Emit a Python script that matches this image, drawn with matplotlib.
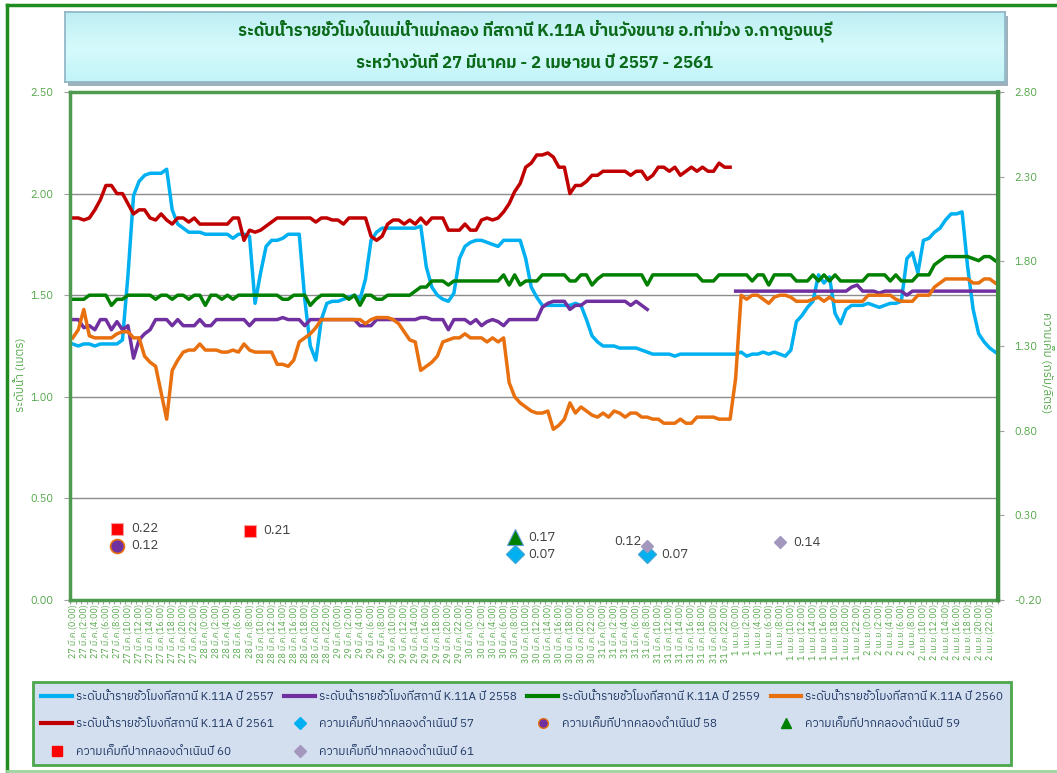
import numpy as np
import matplotlib
matplotlib.use('Agg')
import matplotlib.pyplot as plt
from matplotlib import font_manager
from matplotlib.ft2font import FT2Font
from matplotlib.lines import Line2D
from matplotlib.patches import Rectangle
from matplotlib.colors import LinearSegmentedColormap

nan = float('nan')

# หมวดหมู่แกน x: รายชั่วโมง 27 มี.ค. - 2 เม.ย.
days = ['27 มี.ค.', '28 มี.ค.', '29 มี.ค.', '30 มี.ค.', '31 มี.ค.', '1 เม.ย.', '2 เม.ย.']
times = [f'{d}({h}:00)' for d in days for h in range(24)]

# ระดับน้ำ (เมตร) ค่าละชั่วโมง อ่านจากกราฟ
lvl_2557 = [1.26, 1.25, 1.26, 1.26, 1.25, 1.26, 1.26, 1.26, 1.26, 1.28, 1.60, 1.99, 2.06, 2.09, 2.10, 2.10, 2.10, 2.12, 1.92, 1.85, 1.83, 1.81, 1.81, 1.81,
            1.80, 1.80, 1.80, 1.80, 1.80, 1.78, 1.80, 1.80, 1.79, 1.46, 1.61, 1.74, 1.77, 1.77, 1.78, 1.80, 1.80, 1.80, 1.48, 1.25, 1.18, 1.38, 1.46, 1.47,
            1.47, 1.48, 1.49, 1.50, 1.48, 1.58, 1.77, 1.81, 1.83, 1.83, 1.83, 1.83, 1.83, 1.83, 1.83, 1.84, 1.64, 1.54, 1.50, 1.48, 1.47, 1.51, 1.68, 1.74,
            1.76, 1.77, 1.77, 1.76, 1.75, 1.74, 1.77, 1.77, 1.77, 1.77, 1.68, 1.54, 1.49, 1.45, 1.45, 1.45, 1.45, 1.45, 1.45, 1.46, 1.45, 1.38, 1.30, 1.27,
            1.25, 1.25, 1.25, 1.24, 1.24, 1.24, 1.24, 1.23, 1.22, 1.21, 1.21, 1.21, 1.21, 1.20, 1.21, 1.21, 1.21, 1.21, 1.21, 1.21, 1.21, 1.21, 1.21, 1.21,
            1.21, 1.22, 1.20, 1.21, 1.21, 1.22, 1.21, 1.22, 1.21, 1.20, 1.23, 1.37, 1.40, 1.44, 1.47, 1.60, 1.56, 1.59, 1.41, 1.36, 1.43, 1.45, 1.45, 1.45,
            1.46, 1.45, 1.44, 1.45, 1.46, 1.46, 1.47, 1.68, 1.71, 1.61, 1.77, 1.78, 1.81, 1.83, 1.87, 1.90, 1.90, 1.91, 1.64, 1.43, 1.31, 1.27, 1.24, 1.22]

lvl_2558 = [1.38, 1.38, 1.34, 1.35, 1.33, 1.38, 1.38, 1.33, 1.37, 1.33, 1.35, 1.19, 1.28, 1.31, 1.33, 1.38, 1.38, 1.38, 1.35, 1.38, 1.35, 1.35, 1.35, 1.38,
            1.35, 1.35, 1.38, 1.38, 1.38, 1.38, 1.38, 1.38, 1.35, 1.38, 1.38, 1.38, 1.38, 1.38, 1.39, 1.38, 1.38, 1.38, 1.35, 1.38, 1.38, 1.38, 1.38, 1.38,
            1.38, 1.38, 1.38, 1.38, 1.35, 1.35, 1.35, 1.38, 1.38, 1.38, 1.38, 1.38, 1.38, 1.38, 1.38, 1.39, 1.39, 1.38, 1.38, 1.38, 1.33, 1.38, 1.38, 1.38,
            1.36, 1.38, 1.35, 1.37, 1.38, 1.37, 1.35, 1.38, 1.38, 1.38, 1.38, 1.38, 1.38, 1.44, 1.46, 1.47, 1.47, 1.47, 1.43, 1.45, 1.45, 1.47, 1.47, 1.47,
            1.47, 1.47, 1.47, 1.47, 1.47, 1.45, 1.47, 1.45, 1.43, nan, nan, nan, nan, nan, nan, nan, nan, nan, nan, nan, nan, nan, nan, nan,
            1.52, 1.52, 1.52, 1.52, 1.52, 1.52, 1.52, 1.52, 1.52, 1.52, 1.52, 1.52, 1.52, 1.52, 1.52, 1.52, 1.52, 1.52, 1.52, 1.52, 1.52, 1.54, 1.55, 1.52,
            1.52, 1.52, 1.51, 1.52, 1.52, 1.52, 1.52, 1.50, 1.52, 1.52, 1.52, 1.52, 1.52, 1.52, 1.52, 1.52, 1.52, 1.52, 1.52, 1.52, 1.52, 1.52, 1.52, 1.52]

lvl_2559 = [1.48, 1.48, 1.48, 1.50, 1.50, 1.50, 1.50, 1.45, 1.48, 1.48, 1.50, 1.50, 1.50, 1.50, 1.50, 1.48, 1.50, 1.50, 1.48, 1.50, 1.50, 1.48, 1.50, 1.50,
            1.45, 1.50, 1.50, 1.48, 1.50, 1.48, 1.50, 1.50, 1.50, 1.50, 1.50, 1.50, 1.50, 1.50, 1.48, 1.48, 1.50, 1.50, 1.50, 1.45, 1.48, 1.50, 1.50, 1.50,
            1.50, 1.50, 1.48, 1.50, 1.45, 1.50, 1.50, 1.48, 1.48, 1.50, 1.50, 1.50, 1.50, 1.50, 1.52, 1.54, 1.54, 1.57, 1.57, 1.57, 1.55, 1.57, 1.57, 1.57,
            1.57, 1.57, 1.57, 1.57, 1.57, 1.57, 1.60, 1.55, 1.60, 1.55, 1.57, 1.57, 1.57, 1.60, 1.60, 1.60, 1.60, 1.60, 1.57, 1.57, 1.60, 1.60, 1.55, 1.58,
            1.60, 1.60, 1.60, 1.60, 1.60, 1.60, 1.60, 1.60, 1.55, 1.60, 1.60, 1.60, 1.60, 1.60, 1.60, 1.60, 1.60, 1.60, 1.57, 1.57, 1.57, 1.60, 1.60, 1.60,
            1.60, 1.60, 1.60, 1.57, 1.60, 1.60, 1.55, 1.60, 1.60, 1.60, 1.60, 1.57, 1.57, 1.57, 1.60, 1.57, 1.60, 1.57, 1.60, 1.57, 1.57, 1.57, 1.57, 1.57,
            1.60, 1.60, 1.60, 1.60, 1.57, 1.60, 1.57, 1.57, 1.57, 1.60, 1.60, 1.60, 1.65, 1.67, 1.69, 1.69, 1.69, 1.69, 1.69, 1.68, 1.67, 1.69, 1.69, 1.67]

lvl_2560 = [1.29, 1.33, 1.43, 1.30, 1.29, 1.29, 1.29, 1.29, 1.31, 1.32, 1.32, 1.29, 1.29, 1.20, 1.17, 1.15, 1.02, 0.89, 1.13, 1.18, 1.22, 1.23, 1.23, 1.26,
            1.23, 1.23, 1.23, 1.22, 1.22, 1.23, 1.22, 1.26, 1.23, 1.22, 1.22, 1.22, 1.22, 1.16, 1.16, 1.15, 1.18, 1.27, 1.29, 1.31, 1.34, 1.38, 1.38, 1.38,
            1.38, 1.38, 1.38, 1.38, 1.38, 1.36, 1.38, 1.39, 1.39, 1.39, 1.38, 1.36, 1.32, 1.28, 1.27, 1.13, 1.15, 1.17, 1.20, 1.27, 1.28, 1.29, 1.29, 1.31,
            1.29, 1.29, 1.29, 1.27, 1.29, 1.27, 1.29, 1.07, 1.00, 0.97, 0.95, 0.93, 0.92, 0.92, 0.93, 0.84, 0.86, 0.89, 0.97, 0.92, 0.95, 0.93, 0.91, 0.90,
            0.92, 0.90, 0.93, 0.92, 0.90, 0.92, 0.92, 0.90, 0.90, 0.89, 0.89, 0.87, 0.87, 0.87, 0.89, 0.87, 0.87, 0.90, 0.90, 0.90, 0.90, 0.89, 0.89, 0.89,
            1.09, 1.50, 1.48, 1.50, 1.50, 1.48, 1.46, 1.49, 1.50, 1.50, 1.49, 1.47, 1.47, 1.47, 1.48, 1.49, 1.47, 1.49, 1.47, 1.47, 1.47, 1.47, 1.47, 1.47,
            1.50, 1.50, 1.50, 1.50, 1.50, 1.48, 1.47, 1.47, 1.47, 1.50, 1.50, 1.50, 1.54, 1.56, 1.58, 1.58, 1.58, 1.58, 1.58, 1.56, 1.56, 1.58, 1.58, 1.56]

# ปี 2561 มีข้อมูลถึง 31 มี.ค. 23:00
lvl_2561 = [1.88, 1.88, 1.87, 1.88, 1.92, 1.97, 2.04, 2.04, 2.00, 2.00, 1.95, 1.90, 1.92, 1.92, 1.88, 1.87, 1.90, 1.87, 1.85, 1.88, 1.88, 1.86, 1.88, 1.85,
            1.85, 1.85, 1.85, 1.85, 1.85, 1.88, 1.88, 1.77, 1.82, 1.81, 1.82, 1.84, 1.86, 1.88, 1.88, 1.88, 1.88, 1.88, 1.88, 1.88, 1.86, 1.88, 1.88, 1.87,
            1.87, 1.85, 1.88, 1.88, 1.88, 1.88, 1.79, 1.77, 1.79, 1.85, 1.87, 1.87, 1.85, 1.87, 1.85, 1.88, 1.85, 1.88, 1.88, 1.88, 1.82, 1.82, 1.82, 1.85,
            1.82, 1.82, 1.87, 1.88, 1.87, 1.88, 1.91, 1.95, 2.01, 2.05, 2.13, 2.15, 2.19, 2.19, 2.20, 2.18, 2.13, 2.13, 2.00, 2.04, 2.04, 2.06, 2.09, 2.09,
            2.11, 2.11, 2.11, 2.11, 2.11, 2.09, 2.11, 2.11, 2.07, 2.09, 2.13, 2.13, 2.11, 2.13, 2.09, 2.11, 2.13, 2.11, 2.13, 2.11, 2.11, 2.15, 2.13, 2.13]

# ความเค็มที่ปากคลองดำเนิน (กรัม/ลิตร) วัดเวลา 8:00
sal_57_t = ['30 มี.ค.(8:00)', '31 มี.ค.(8:00)']
sal_57 = [0.07, 0.07]
sal_58_t = ['27 มี.ค.(8:00)']
sal_58 = [0.12]
sal_59_t = ['30 มี.ค.(8:00)']
sal_59 = [0.17]
sal_60_t = ['27 มี.ค.(8:00)', '28 มี.ค.(8:00)']
sal_60 = [0.22, 0.21]
sal_61_t = ['31 มี.ค.(8:00)', '1 เม.ย.(8:00)']
sal_61 = [0.12, 0.14]

title1 = 'ระดับน้ำรายชั่วโมงในแม่น้ำแม่กลอง ที่สถานี K.11A บ้านวังขนาย อ.ท่าม่วง จ.กาญจนบุรี'
title2 = 'ระหว่างวันที่ 27 มีนาคม - 2 เมษายน ปี 2557 - 2561'
lvl_name = 'ระดับน้ำรายชั่วโมงที่สถานี K.11A ปี '
sal_name = 'ความเค็มที่ปากคลองดำเนินปี '


# หาฟอนต์ที่มีอักษรไทย
def find_thai_font():
    names = []
    for f in font_manager.fontManager.ttflist:
        try:
            cmap = FT2Font(f.fname).get_charmap()
        except Exception:
            continue
        if 0x0E01 in cmap and f.name not in names:
            names.append(f.name)
    names.sort(key=lambda n: ('Sans' not in n, 'Serif' in n, n))
    return names[0] if names else None


thai = find_thai_font()
plt.rcParams['font.family'] = ([thai] if thai else []) + ['Noto Sans', 'DejaVu Sans']

GREEN_TXT = '#55A84B'
W, H = 1057, 773

fig = plt.figure(figsize=(W / 100, H / 100), dpi=100)

# กรอบนอก
fig.add_artist(Line2D([7 / W, 7 / W], [0.003, 1 - 5 / H], color='#1E8C1E', lw=2.5, transform=fig.transFigure))
fig.add_artist(Line2D([7 / W, 1], [1 - 5 / H, 1 - 5 / H], color='#1E8C1E', lw=2.5, transform=fig.transFigure))
fig.add_artist(Line2D([7 / W, 1], [2 / H, 2 / H], color='#9FD39F', lw=2, transform=fig.transFigure))

# กล่องชื่อกราฟ
fig.add_artist(Rectangle((68 / W, 1 - 86 / H), 940 / W, 70 / H, transform=fig.transFigure,
                         facecolor='#5F7F8F', alpha=0.6, edgecolor='none', zorder=-1))
tax = fig.add_axes([65 / W, 1 - 82 / H, 940 / W, 70 / H])
cmap = LinearSegmentedColormap.from_list('tb', ['#BDEEF4', '#D6FAFC', '#C2F4F8'])
tax.imshow(np.linspace(0, 1, 50).reshape(-1, 1), cmap=cmap, aspect='auto', extent=[0, 1, 0, 1])
tax.set_xticks([])
tax.set_yticks([])
for s in tax.spines.values():
    s.set_color('#8DB3C4')
    s.set_linewidth(1.2)
tax.text(0.5, 0.73, title1, ha='center', va='center', fontsize=12, fontweight='bold', color='#0B6B1A', transform=tax.transAxes)
tax.text(0.5, 0.27, title2, ha='center', va='center', fontsize=12, fontweight='bold', color='#0B6B1A', transform=tax.transAxes)

# พื้นที่กราฟ
ax = fig.add_axes([70 / W, 173 / H, 928 / W, 508 / H])
x = np.arange(len(times)) + 0.5

ax.plot(x[:len(lvl_2557)], lvl_2557, color='#00B0F0', lw=2.5, solid_joinstyle='round')
ax.plot(x[:len(lvl_2558)], lvl_2558, color='#7030A0', lw=2.5, solid_joinstyle='round')
ax.plot(x[:len(lvl_2559)], lvl_2559, color='#008000', lw=2.5, solid_joinstyle='round')
ax.plot(x[:len(lvl_2560)], lvl_2560, color='#E8700F', lw=2.5, solid_joinstyle='round')
ax.plot(x[:len(lvl_2561)], lvl_2561, color='#C00000', lw=2.5, solid_joinstyle='round')

ax.set_xlim(0, len(times))
ax.set_ylim(0, 2.5)
ax.set_yticks(np.arange(0, 2.51, 0.5))
ax.set_yticklabels([f'{v:.2f}' for v in np.arange(0, 2.51, 0.5)])
ax.grid(axis='y', color='#8C8C8C', lw=1)
ax.set_axisbelow(True)
ax.set_xticks(x[::2])
ax.set_xticklabels(times[::2])
ax.set_xticks(np.arange(len(times) + 1), minor=True)
ax.tick_params(axis='x', which='major', length=0, pad=3, labelsize=6.5, labelcolor=GREEN_TXT, labelrotation=90)
ax.tick_params(axis='x', which='minor', length=3, color='#A0A0A0', width=0.8)
ax.tick_params(axis='y', length=4, color='#A0A0A0', labelcolor=GREEN_TXT, labelsize=8, pad=8)
for s in ax.spines.values():
    s.set_color('#4E9A4E')
    s.set_linewidth(2.5)

# แกนขวา: ความเค็ม
ax2 = ax.twinx()
ax2.set_ylim(-0.2, 2.8)
rt = np.arange(-0.2, 2.81, 0.5)
ax2.set_yticks(rt)
ax2.set_yticklabels([f'{v:.2f}' for v in rt])
ax2.tick_params(axis='y', length=4, color='#A0A0A0', labelcolor=GREEN_TXT, labelsize=8, pad=8)
for k, s in ax2.spines.items():
    s.set_visible(k == 'right')
ax2.spines['right'].set_color('#3C8F3C')
ax2.spines['right'].set_linewidth(3)


def pos(ts):
    return [times.index(t) + 0.5 for t in ts]


ax2.plot(pos(sal_57_t), sal_57, ls='none', marker='D', ms=9, color='#00B0F0', mec='#3FA6D8')
ax2.plot(pos(sal_58_t), sal_58, ls='none', marker='o', ms=10, color='#7030A0', mec='#E8700F', mew=1.2)
ax2.plot(pos(sal_59_t), sal_59, ls='none', marker='^', ms=11, color='#008000', mec='#5B9BD5', mew=0.8)
ax2.plot(pos(sal_60_t), sal_60, ls='none', marker='s', ms=8, color='#FF0000', mec='#F4A0A0', mew=0.8)
ax2.plot(pos(sal_61_t), sal_61, ls='none', marker='D', ms=6.5, color='#A397BE', mec='#A397BE')

lbl = dict(textcoords='offset points', va='center', fontsize=9.5, color='#404040')
for xs, vs in [(pos(sal_57_t), sal_57), (pos(sal_58_t), sal_58), (pos(sal_59_t), sal_59), (pos(sal_60_t), sal_60)]:
    for xi, v in zip(xs, vs):
        ax2.annotate(f'{v:.2f}', (xi, v), xytext=(10, 0), ha='left', **lbl)
xs61 = pos(sal_61_t)
ax2.annotate(f'{sal_61[0]:.2f}', (xs61[0], sal_61[0]), xytext=(-4, 3), ha='right', **lbl)
ax2.annotate(f'{sal_61[1]:.2f}', (xs61[1], sal_61[1]), xytext=(10, 0), ha='left', **lbl)

fig.text(20 / W, 1 - 375 / H, 'ระดับน้ำ (เมตร)', rotation=90, ha='center', va='center', fontsize=8.5, color=GREEN_TXT)
fig.text(1047 / W, 1 - 363 / H, 'ความเค็ม (กรัม/ลิตร)', rotation=270, ha='center', va='center', fontsize=8.5, color=GREEN_TXT)

# คำอธิบายสัญลักษณ์ (เรียงตามคอลัมน์ให้ได้ลำดับแถวเหมือนต้นฉบับ)
h = {
    '2557': Line2D([], [], color='#00B0F0', lw=3),
    '2558': Line2D([], [], color='#7030A0', lw=3),
    '2559': Line2D([], [], color='#008000', lw=3),
    '2560': Line2D([], [], color='#E8700F', lw=3),
    '2561': Line2D([], [], color='#C00000', lw=3),
    's57': Line2D([], [], ls='none', marker='D', ms=6, color='#00B0F0'),
    's58': Line2D([], [], ls='none', marker='o', ms=7, color='#7030A0', mec='#E8700F'),
    's59': Line2D([], [], ls='none', marker='^', ms=7, color='#008000'),
    's60': Line2D([], [], ls='none', marker='s', ms=7, color='#FF0000'),
    's61': Line2D([], [], ls='none', marker='D', ms=6, color='#A397BE'),
}
lab = {k: lvl_name + k for k in ['2557', '2558', '2559', '2560', '2561']}
lab.update({'s' + y: sal_name + y for y in ['57', '58', '59', '60', '61']})
order = ['2557', '2561', 's60', '2558', 's57', 's61', '2559', 's58', '2560', 's59']
leg = fig.legend([h[k] for k in order], [lab[k] for k in order], ncol=4, mode='expand',
                 loc='lower left', bbox_to_anchor=(33 / W, 8 / H, 978 / W, 86 / H),
                 fontsize=8.5, labelcolor='#1F3864', handlelength=2.6, labelspacing=1.4,
                 handletextpad=0.3, borderaxespad=0, borderpad=0.7, fancybox=False,
                 framealpha=1, facecolor='#D3DEEF', edgecolor='#4CA64C')
leg.get_frame().set_linewidth(2)

fig.savefig('out.png', dpi=100)
